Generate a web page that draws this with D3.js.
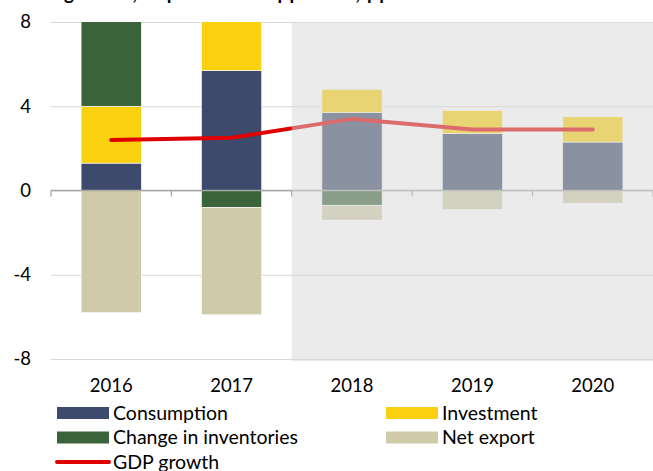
<!DOCTYPE html>
<html>
<head>
<meta charset="utf-8">
<script src="https://cdn.jsdelivr.net/npm/d3@7"></script>
<style>
  body { margin: 0; background: #fff; }
  svg { display: block; font-family: Lato, 'Liberation Sans', sans-serif; }
</style>
</head>
<body>
<svg id="chart" width="653" height="471"></svg>
<script>
'use strict';

// chart data
const years = ['2016', '2017', '2018', '2019', '2020'];
const consumption = [1.3, 5.7, 3.7, 2.7, 2.3];
const investment = [2.7, 2.7, 1.1, 1.1, 1.2];
const inventories = [4.2, -0.8, -0.7, 0, 0];
const netExport = [-5.8, -5.1, -0.7, -0.9, -0.6];
const gdpGrowth = [2.4, 2.5, 3.4, 2.9, 2.9];
const forecastYears = ['2018', '2019', '2020'];
const yTicks = [-8, -4, 0, 4, 8];

const seriesNames = ['Consumption', 'Investment', 'Change in inventories', 'Net export'];
const seriesColors = ['#3d4a6b', '#fad111', '#3a633a', '#cfcba8'];
const lineName = 'GDP growth';
const lineColor = '#e00000';

const W = 653;
const svg = d3.select('#chart');

const x = d3.scaleBand()
  .domain(years)
  .range([51, W])
  .paddingInner(0.5)
  .paddingOuter(0.25);

const y = d3.scaleLinear()
  .domain([-8, 8])
  .range([359, 22]);

const table = years.map((yr, i) => ({
  year: yr,
  Consumption: consumption[i],
  Investment: investment[i],
  'Change in inventories': inventories[i],
  'Net export': netExport[i]
}));

const stacked = d3.stack()
  .keys(seriesNames)
  .offset(d3.stackOffsetDiverging)(table);

const color = d3.scaleOrdinal().domain(seriesNames).range(seriesColors);

// title (mostly cut off at the top of the picture)
svg.append('text')
  .attr('x', 62)
  .attr('y', 0)
  .attr('text-anchor', 'end')
  .style('font-weight', 'bold')
  .style('font-size', '19px')
  .text('Real GDP');
svg.append('text')
  .attr('x', 64)
  .attr('y', 0)
  .attr('textLength', 326)
  .attr('lengthAdjust', 'spacing')
  .style('font-weight', 'bold')
  .style('font-size', '19px')
  .text('growth, expenditure approach, pp');

// gridlines
svg.append('g')
  .attr('class', 'grid')
  .attr('transform', 'translate(51,0)')
  .call(d3.axisLeft(y).tickValues(yTicks).tickSize(-(W - 51)).tickFormat(''))
  .call(g => g.select('.domain').remove())
  .call(g => g.selectAll('line').attr('stroke', '#d9d9d9').attr('stroke-width', 1.2));

// y labels (plain hyphen for negatives, as in the source)
svg.append('g')
  .attr('transform', 'translate(31,0)')
  .call(d3.axisLeft(y).tickValues(yTicks).tickSize(0).tickPadding(0).tickFormat(d => String(d)))
  .call(g => g.select('.domain').remove())
  .call(g => g.selectAll('text').attr('fill', '#000').style('font-size', '18.5px').style('font-family', 'Lato'));

// bars
svg.append('clipPath')
  .attr('id', 'plot-clip')
  .append('rect')
  .attr('x', 51).attr('y', y(8))
  .attr('width', W - 51).attr('height', y(-8) - y(8));

svg.append('g')
  .attr('clip-path', 'url(#plot-clip)')
  .selectAll('g')
  .data(stacked)
  .enter().append('g')
  .attr('fill', d => color(d.key))
  .selectAll('rect')
  .data(d => d)
  .enter().append('rect')
  .attr('x', d => x(d.data.year))
  .attr('width', x.bandwidth())
  .attr('y', d => y(Math.max(d[0], d[1])))
  .attr('height', d => Math.abs(y(d[0]) - y(d[1])))
  .attr('stroke', '#fff')
  .attr('stroke-width', 0.6);

// zero line with ticks between categories
const bounds = years.map(d => x(d) - x.step() * x.paddingInner() / 2).concat([W]);
const zero = svg.append('g').attr('class', 'zero');
zero.append('line')
  .attr('x1', 51).attr('x2', W)
  .attr('y1', y(0)).attr('y2', y(0))
  .attr('stroke', '#a6a6a6')
  .attr('stroke-width', 1.3);
zero.selectAll('.tick')
  .data(bounds)
  .enter().append('line')
  .attr('x1', d => d).attr('x2', d => d)
  .attr('y1', y(0)).attr('y2', y(0) + 6)
  .attr('stroke', '#a6a6a6')
  .attr('stroke-width', 1.3);

// GDP growth line
const line = d3.line()
  .x((d, i) => x(years[i]) + x.bandwidth() / 2)
  .y(d => y(d));

svg.append('path')
  .datum(gdpGrowth)
  .attr('d', line)
  .attr('fill', 'none')
  .attr('stroke', lineColor)
  .attr('stroke-width', 4)
  .attr('stroke-linecap', 'round')
  .attr('stroke-linejoin', 'round');

// forecast shading drawn on top
const fx0 = x(forecastYears[0]) - x.step() * x.paddingInner() / 2;
svg.append('rect')
  .attr('x', fx0)
  .attr('y', y(8) + 0.6)
  .attr('width', W - fx0)
  .attr('height', y(-8) - y(8) + 1.5)
  .attr('fill', '#d7d7d7')
  .attr('fill-opacity', 0.5);

// x labels
svg.append('g')
  .attr('transform', `translate(0,${y(-8)})`)
  .call(d3.axisBottom(x).tickSize(0).tickPadding(20))
  .call(g => g.select('.domain').remove())
  .call(g => g.selectAll('text').attr('fill', '#000').style('font-size', '18.5px').style('font-family', 'Lato'));

// legend
const legendItems = seriesNames.map((name, i) => ({
  name,
  color: seriesColors[i],
  col: i % 2,
  row: Math.floor(i / 2),
  type: 'rect'
})).concat([{ name: lineName, color: lineColor, col: 0, row: 2, type: 'line' }]);

const legend = svg.append('g')
  .attr('class', 'legend')
  .selectAll('g')
  .data(legendItems)
  .enter().append('g')
  .attr('transform', d => `translate(${d.col ? 386 : 57},${413 + d.row * 24.5})`);

legend.filter(d => d.type === 'rect')
  .append('rect')
  .attr('x', 0).attr('y', -6)
  .attr('width', 52).attr('height', 12)
  .attr('fill', d => d.color);

legend.filter(d => d.type === 'line')
  .append('line')
  .attr('x1', 0).attr('x2', 52)
  .attr('y1', 0).attr('y2', 0)
  .attr('stroke', d => d.color)
  .attr('stroke-width', 4)
  .attr('stroke-linecap', 'round');

legend.append('text')
  .attr('x', 56)
  .attr('y', 6.5)
  .style('font-size', '19.5px')
  .attr('fill', '#000')
  .text(d => d.name);
</script>
</body>
</html>
